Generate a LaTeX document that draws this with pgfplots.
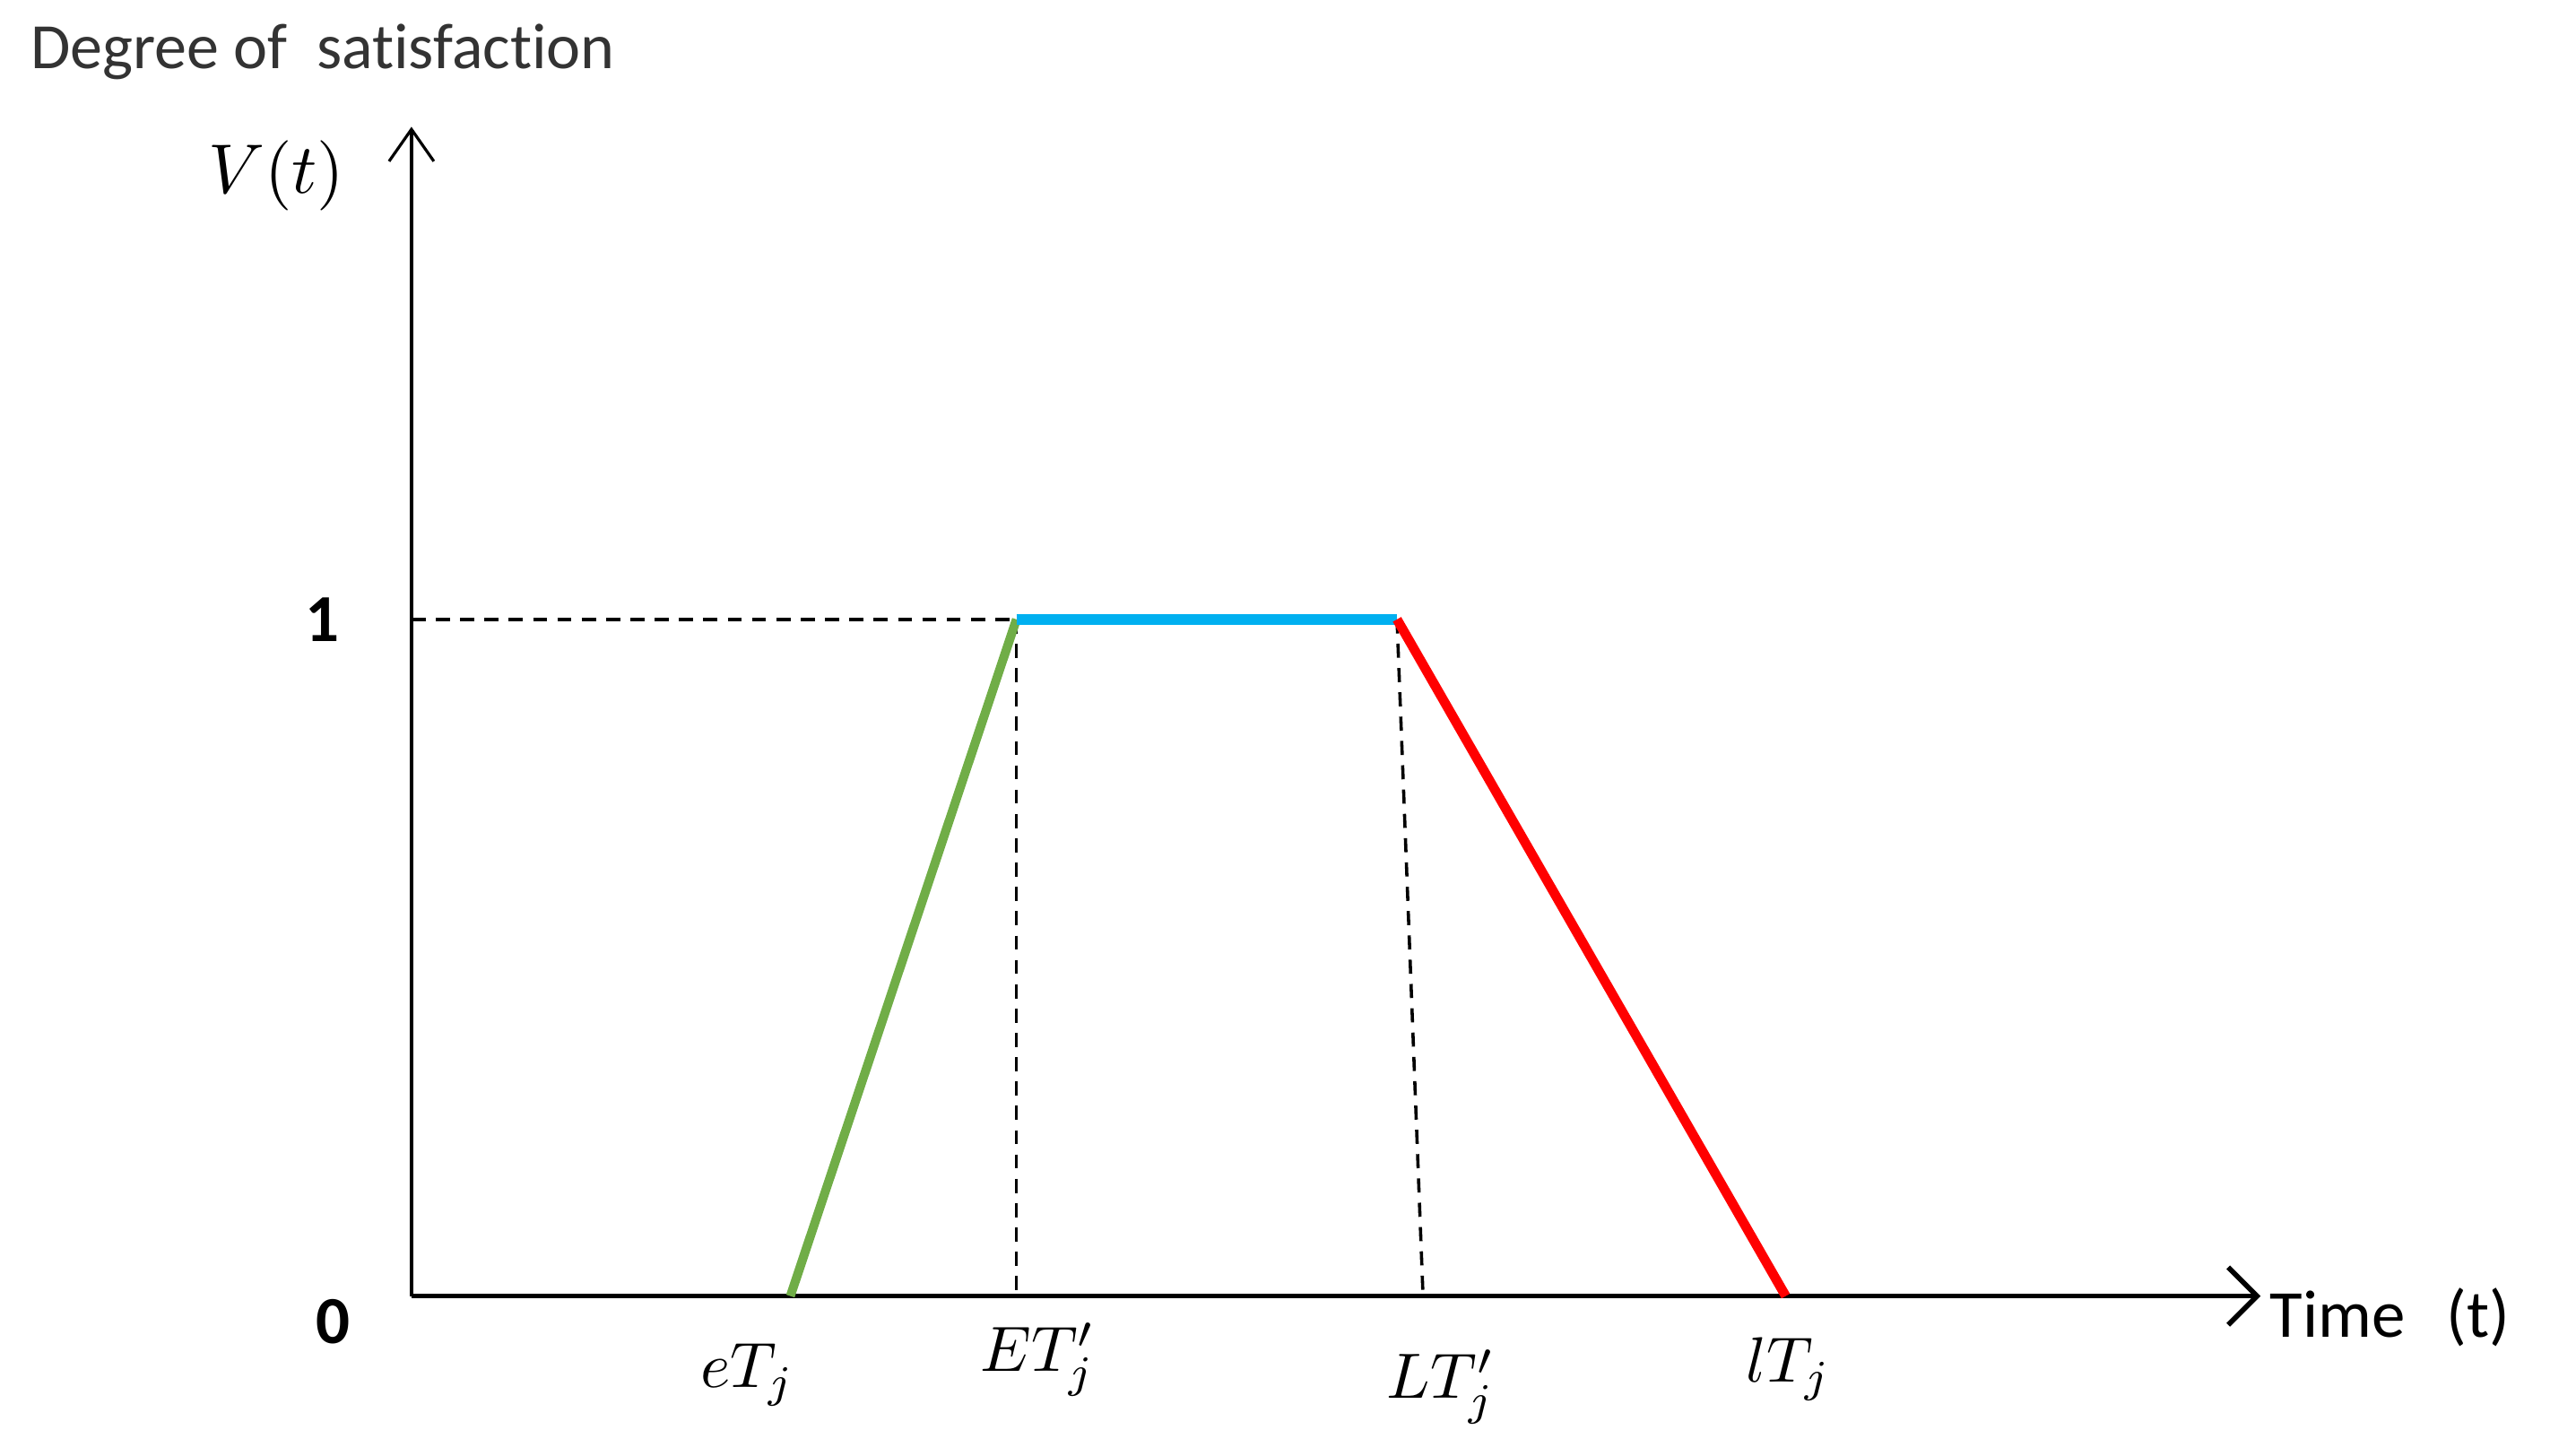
\documentclass[border=0pt]{standalone}
\usepackage{pgfplots}
\pgfplotsset{compat=1.18}
\usetikzlibrary{arrows.meta}
\usepackage{fontspec}
\setmainfont{Carlito}[Ligatures=NoCommon]
\definecolor{cgreen}{RGB}{112,173,71}
\definecolor{cblue}{RGB}{0,176,240}
\definecolor{cred}{RGB}{255,0,0}
\begin{document}
\begin{tikzpicture}
\begin{axis}[
    scale only axis,
    width=10.152cm, height=6.420cm,
    xmin=0, xmax=1137, ymin=0, ymax=1.728,
    enlargelimits=false,
    axis x line=bottom, axis y line=left,
    x axis line style={line width=0.8pt, -{Straight Barb[length=4.5pt,width=9pt,line width=0.8pt]}},
    y axis line style={line width=0.45pt, -{Straight Barb[length=5pt,width=7pt,line width=0.45pt]}},
    xtick=\empty, ytick=\empty,
    clip=false,
    font=\fontsize{10.5}{12}\selectfont,
]
% reference lines
\addplot[black, line width=0.5pt, dash pattern=on 2.2pt off 1.6pt] coordinates {(0,1) (372,1)};
\addplot[black, line width=0.5pt, dash pattern=on 2.2pt off 1.6pt] coordinates {(372,1) (372,0)};
\addplot[black, line width=0.5pt, dash pattern=on 2.2pt off 1.6pt] coordinates {(606,1) (622,0)};
% satisfaction function
\addplot[cgreen, line width=1.4pt] coordinates {(233,0) (372,1)};
\addplot[cblue, line width=1.6pt] coordinates {(372,1) (606,1)};
\addplot[cred, line width=1.5pt] coordinates {(606,1) (845,0)};
% labels
\node[anchor=west, inner sep=0pt, text=black!80, font=\fontsize{10.1}{12}\selectfont] at (axis cs:-235,1.839) {Degree of\ \ satisfaction};
\node at (axis cs:-83,1.656) {$V(t)$};
\node at (axis cs:-55,1.0) {\bfseries 1};
\node at (axis cs:-48,-0.038) {\bfseries 0};
\node[anchor=west, inner sep=0pt] at (axis cs:1142,-0.031) {Time\ \ \,(t)};
\begin{scope}[font=\fontsize{10}{12}\selectfont]
\node[anchor=base west, inner sep=0pt] at (axis cs:177,-0.135) {$eT_j$};
\node[anchor=base west, inner sep=0pt] at (axis cs:349,-0.111) {$ET_j'$};
\node[anchor=base west, inner sep=0pt] at (axis cs:599,-0.151) {$LT_j'$};
\node[anchor=base west, inner sep=0pt] at (axis cs:820,-0.127) {$lT_j$};
\end{scope}
\end{axis}
\useasboundingbox (-2.259cm,-0.875cm) rectangle (11.741cm,7.116cm);
\end{tikzpicture}
\end{document}
